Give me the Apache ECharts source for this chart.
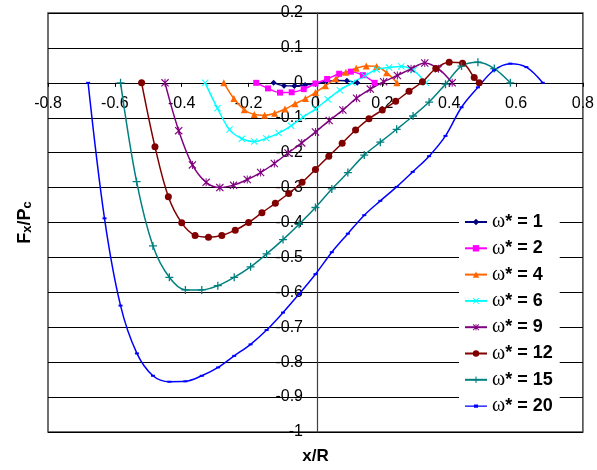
<!DOCTYPE html>
<html>
<head>
<meta charset="utf-8">
<script src="https://cdn.jsdelivr.net/npm/echarts@6/dist/echarts.min.js"></script>
<style>
html,body{margin:0;padding:0;background:#fff;}
#chart{width:597px;height:470px;}
</style>
</head>
<body>
<div id="chart"></div>
<script>
// ---- Data ----
const seriesNames = ['ω* = 1','ω* = 2','ω* = 4','ω* = 6','ω* = 9','ω* = 12','ω* = 15','ω* = 20'];

const w1X = [-0.125,-0.094,-0.063,-0.031,0,0.031,0.063,0.094,0.125];
const w1Y = [0,-0.008,-0.009,-0.006,-0.002,0.003,0.007,0.006,0];

const w2X = [-0.177,-0.142,-0.106,-0.071,-0.035,0,0.035,0.071,0.106,0.142,0.177];
const w2Y = [0,-0.016,-0.028,-0.027,-0.018,-0.002,0.011,0.026,0.032,0.022,0];

const w4X = [-0.274,-0.244,-0.213,-0.183,-0.152,-0.122,-0.091,-0.061,-0.030,0,0.030,0.061,0.091,0.122,0.152,0.183,0.213,0.244];
const w4Y = [0,-0.045,-0.077,-0.091,-0.093,-0.087,-0.075,-0.060,-0.045,-0.028,-0.008,0.012,0.030,0.042,0.048,0.047,0.029,0];

const w6X = [-0.330,-0.293,-0.257,-0.220,-0.183,-0.147,-0.110,-0.073,-0.037,0,0.037,0.073,0.110,0.147,0.183,0.220,0.257,0.293,0.330];
const w6Y = [0,-0.073,-0.134,-0.160,-0.168,-0.159,-0.144,-0.123,-0.098,-0.075,-0.047,-0.021,0.000,0.020,0.038,0.044,0.047,0.036,0];

const w9X = [-0.450,-0.409,-0.368,-0.327,-0.286,-0.245,-0.204,-0.164,-0.123,-0.082,-0.041,0,0.041,0.082,0.123,0.164,0.204,0.245,0.286,0.327,0.368,0.409];
const w9Y = [0,-0.137,-0.235,-0.285,-0.300,-0.293,-0.277,-0.257,-0.231,-0.201,-0.172,-0.141,-0.108,-0.078,-0.044,-0.018,0.003,0.021,0.040,0.057,0.040,0];

const w12X = [-0.52,-0.48,-0.44,-0.40,-0.36,-0.32,-0.28,-0.24,-0.20,-0.16,-0.12,-0.08,-0.04,0,0.04,0.08,0.12,0.16,0.20,0.24,0.28,0.32,0.36,0.40,0.44,0.475,0.49];
const w12Y = [0,-0.183,-0.326,-0.401,-0.437,-0.442,-0.437,-0.422,-0.400,-0.372,-0.345,-0.317,-0.285,-0.248,-0.210,-0.173,-0.135,-0.103,-0.078,-0.053,-0.024,0.003,0.041,0.059,0.056,0.015,0];

const w15X = [-0.583,-0.535,-0.486,-0.437,-0.389,-0.340,-0.292,-0.243,-0.194,-0.146,-0.097,-0.049,0,0.049,0.097,0.146,0.194,0.243,0.292,0.340,0.389,0.437,0.486,0.535,0.583];
const w15Y = [0,-0.283,-0.467,-0.557,-0.593,-0.593,-0.581,-0.557,-0.527,-0.490,-0.449,-0.405,-0.357,-0.304,-0.257,-0.207,-0.170,-0.133,-0.095,-0.055,-0.004,0.048,0.059,0.041,0];

const w20X = [-0.680,-0.631,-0.583,-0.534,-0.486,-0.437,-0.389,-0.340,-0.291,-0.243,-0.194,-0.146,-0.097,-0.049,0,0.049,0.097,0.146,0.194,0.243,0.291,0.340,0.389,0.437,0.486,0.534,0.583,0.631,0.680];
const w20Y = [0,-0.388,-0.638,-0.775,-0.839,-0.856,-0.855,-0.839,-0.815,-0.782,-0.749,-0.708,-0.658,-0.605,-0.548,-0.485,-0.432,-0.379,-0.338,-0.298,-0.255,-0.210,-0.152,-0.070,-0.013,0.036,0.055,0.045,0];

const xTicks = [-0.8,-0.6,-0.4,-0.2,0,0.2,0.4,0.6,0.8];
const yTicks = [0.2,0.1,0,-0.1,-0.2,-0.3,-0.4,-0.5,-0.6,-0.7,-0.8,-0.9,-1];

// ---- Styles ----
const allX = [w1X,w2X,w4X,w6X,w9X,w12X,w15X,w20X];
const allY = [w1Y,w2Y,w4Y,w6Y,w9Y,w12Y,w15Y,w20Y];
const colors = ['#000080','#FF00FF','#FF6600','#00FFFF','#800080','#800000','#008080','#0000FF'];
const xSym = 'path://M1,0 L5,4 L9,0 L10,1 L6,5 L10,9 L9,10 L5,6 L1,10 L0,9 L4,5 L0,1 Z';
const starSym = 'path://M1,0 L5,4 L9,0 L10,1 L6,5 L10,9 L9,10 L5,6 L1,10 L0,9 L4,5 L0,1 Z M4.4,0 L5.6,0 L5.6,10 L4.4,10 Z';
const plusSym = 'path://M4.2,0 L5.8,0 L5.8,4.2 L10,4.2 L10,5.8 L5.8,5.8 L5.8,10 L4.2,10 L4.2,5.8 L0,5.8 L0,4.2 L4.2,4.2 Z';
const symbols = ['diamond','rect',"triangle",xSym,starSym,'circle',plusSym,'rect'];
const symSizes = [6,6,7,7,8,7,8,[4,2]];

const FONT = "'Liberation Sans', Arial, sans-serif";

const GRID = {left: 48, right: 11, top: 13, bottom: 38};
const PLOT_H = 470 - GRID.top - GRID.bottom;
const PLOT_W = 597 - GRID.left - GRID.right;
const yMin = yTicks[yTicks.length-1], yMax = yTicks[0];
const xMin = xTicks[0], xMax = xTicks[xTicks.length-1];
// distance from grid bottom to y=0 and from grid left to x=0
const xAxisOffset = -PLOT_H * (0 - yMin) / (yMax - yMin);
const yAxisOffset = -PLOT_W * (0 - xMin) / (xMax - xMin);

const series = seriesNames.map((n,i)=>({
  name: n,
  type: 'line',
  smooth: 0.35,
  data: allX[i].map((x,k)=>[x, allY[i][k]]),
  symbol: symbols[i],
  symbolSize: symSizes[i],
  showSymbol: true,
  color: colors[i],
  itemStyle: {color: colors[i]},
  lineStyle: {color: colors[i], width: 1.5},
  emphasis: {disabled: true}
}));

const legendData = seriesNames.map((n,i)=> i === 7
  ? {name: n, icon: 'path://M0,4.3 L22,4.3 L22,5.7 L0,5.7 Z M9,3.3 L13,3.3 L13,6.7 L9,6.7 Z', itemStyle:{color: colors[i]}}
  : {name: n});

const chart = echarts.init(document.getElementById('chart'), null, {renderer:'canvas'});
chart.setOption({
  animation: false,
  backgroundColor: '#fff',
  grid: Object.assign({show: true, borderColor: '#404040', borderWidth: 1.5, backgroundColor: 'transparent'}, GRID),
  xAxis: {
    type: 'value', min: xMin, max: xMax, interval: 0.2,
    position: 'bottom', offset: xAxisOffset,
    name: 'x/R', nameLocation: 'middle', nameGap: 365,
    nameTextStyle: {fontFamily: FONT, fontSize: 17, fontWeight: 'bold', color: '#000'},
    axisLine: {onZero: false, lineStyle: {color: '#000', width: 1}},
    axisTick: {show: true, length: 4, lineStyle: {color: '#000'}},
    axisLabel: {color: '#000', fontSize: 16, fontFamily: FONT, margin: 13, showMinLabel: true, showMaxLabel: true,
      formatter: v => String(Math.round(v*10)/10)},
    splitLine: {show: false}
  },
  yAxis: {
    type: 'value', min: yMin, max: yMax, interval: 0.1,
    position: 'left', offset: yAxisOffset,
    name: '{b|F}{s|x}{b|/P}{s|c}', nameLocation: 'middle', nameRotate: 90, nameGap: 283,
    nameTextStyle: {
      color: '#000',
      rich: {
        b: {fontFamily: FONT, fontSize: 18, fontWeight: 'bold', color: '#000', lineHeight: 22, verticalAlign: 'bottom'},
        s: {fontFamily: FONT, fontSize: 13, fontWeight: 'bold', color: '#000', lineHeight: 10, verticalAlign: 'bottom'}
      }
    },
    axisLine: {onZero: false, lineStyle: {color: '#404040', width: 1.2}},
    axisTick: {show: true, length: 4, lineStyle: {color: '#000'}},
    axisLabel: {color: '#000', fontSize: 16, fontFamily: FONT, margin: 14, showMinLabel: true, showMaxLabel: true,
      formatter: v => String(Math.round(v*10)/10)},
    splitLine: {show: true, lineStyle: {color: '#000', width: 1}}
  },
  legend: {
    orient: 'vertical', left: 459, top: 204,
    padding: [8, 7, 8, 5],
    backgroundColor: '#fff',
    itemWidth: 22, itemHeight: 8, itemGap: 6.3,
    data: legendData,
    formatter: name => '{w|ω}{b|' + name.slice(1) + '}',
    textStyle: {
      color: '#000', lineHeight: 20,
      rich: {
        w: {fontFamily: "'Liberation Serif', serif", fontSize: 20, color: '#000', lineHeight: 20},
        b: {fontFamily: FONT, fontSize: 18, fontWeight: 'bold', color: '#000', lineHeight: 20}
      }
    }
  },
  series: series
});
</script>
</body>
</html>
